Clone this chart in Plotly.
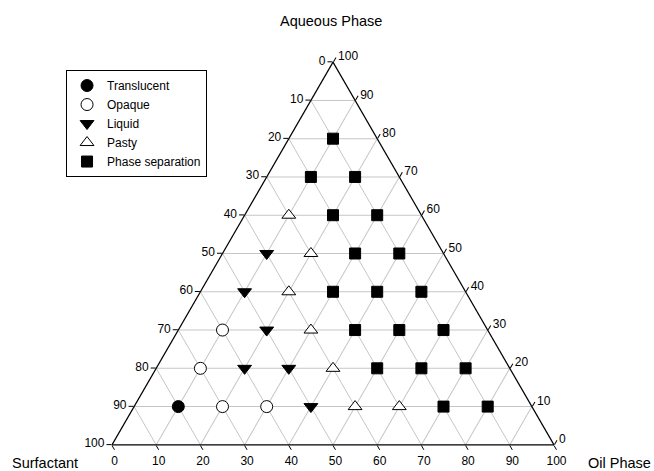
import plotly.graph_objects as go

FONT = "Arial, 'Liberation Sans', Helvetica, sans-serif"

# Sample compositions (%), grouped by the appearance of each formulation
translucent_aqueous = [10]
translucent_oil = [10]
translucent_surfactant = [80]

opaque_aqueous = [30, 20, 10, 10]
opaque_oil = [10, 10, 20, 30]
opaque_surfactant = [60, 70, 70, 60]

liquid_aqueous = [50, 40, 30, 20, 20, 10]
liquid_oil = [10, 10, 20, 20, 30, 40]
liquid_surfactant = [40, 50, 50, 60, 50, 50]

pasty_aqueous = [60, 50, 40, 30, 20, 10, 10]
pasty_oil = [10, 20, 20, 30, 40, 50, 60]
pasty_surfactant = [30, 30, 40, 40, 40, 40, 30]

separation_aqueous = [80, 70, 70, 60, 60, 50, 50, 40, 40, 40, 30, 30, 30, 20, 20, 20, 10, 10]
separation_oil = [10, 10, 20, 20, 30, 30, 40, 30, 40, 50, 40, 50, 60, 50, 60, 70, 70, 80]
separation_surfactant = [10, 20, 10, 20, 10, 20, 10, 30, 20, 10, 30, 20, 10, 30, 20, 10, 20, 10]

# Each edge is labelled with the share of the component its corner points to
tick_values = [0, 10, 20, 30, 40, 50, 60, 70, 80, 90, 100]
tick_labels = ["100", "90", "80", "70", "60", "50", "40", "30", "20", "10", "0"]

series = [
    ("Translucent", translucent_aqueous, translucent_surfactant, translucent_oil,
     "circle", "black", 12),
    ("Opaque", opaque_aqueous, opaque_surfactant, opaque_oil,
     "circle", "white", 12),
    ("Liquid", liquid_aqueous, liquid_surfactant, liquid_oil,
     "triangle-down", "black", 12),
    ("Pasty", pasty_aqueous, pasty_surfactant, pasty_oil,
     "triangle-up", "white", 12),
    ("Phase separation", separation_aqueous, separation_surfactant, separation_oil,
     "square", "black", 11),
]

fig = go.Figure()
for name, aq, surf, oil, symbol, fill, size in series:
    fig.add_trace(go.Scatterternary(
        a=aq, b=surf, c=oil,
        mode="markers",
        name=name,
        marker=dict(symbol=symbol, size=size, color=fill,
                    line=dict(color="black", width=1)),
    ))

axis_style = dict(
    min=0,
    tickmode="array",
    tickvals=tick_values,
    ticktext=tick_labels,
    ticks="outside",
    ticklen=5,
    tickwidth=1,
    tickcolor="black",
    tickfont=dict(family=FONT, size=12, color="black"),
    showline=True,
    linecolor="black",
    linewidth=1.2,
    showgrid=True,
    gridcolor="#c6c6c6",
    gridwidth=1,
    title=dict(text=""),
)

fig.update_layout(
    width=654,
    height=471,
    margin=dict(l=112, r=100, t=62, b=26),
    paper_bgcolor="white",
    plot_bgcolor="white",
    font=dict(family=FONT, size=12, color="black"),
    ternary=dict(
        sum=100,
        bgcolor="white",
        aaxis=axis_style,
        baxis=axis_style,
        caxis=axis_style,
    ),
    showlegend=True,
    legend=dict(
        x=-0.104, y=0.979, xanchor="left", yanchor="top",
        bgcolor="white", bordercolor="black", borderwidth=1,
        font=dict(family=FONT, size=12, color="black"),
    ),
    annotations=[
        dict(text="Aqueous Phase", x=0.4955, y=1.107, xref="paper", yref="paper",
             xanchor="center", yanchor="middle", showarrow=False,
             font=dict(family=FONT, size=14.5, color="black")),
        dict(text="Surfactant", x=-0.1516, y=-0.047, xref="paper", yref="paper",
             xanchor="center", yanchor="middle", showarrow=False,
             font=dict(family=FONT, size=14.5, color="black")),
        dict(text="Oil Phase", x=1.149, y=-0.047, xref="paper", yref="paper",
             xanchor="center", yanchor="middle", showarrow=False,
             font=dict(family=FONT, size=14.5, color="black")),
    ],
)

fig.write_html("out.html")
